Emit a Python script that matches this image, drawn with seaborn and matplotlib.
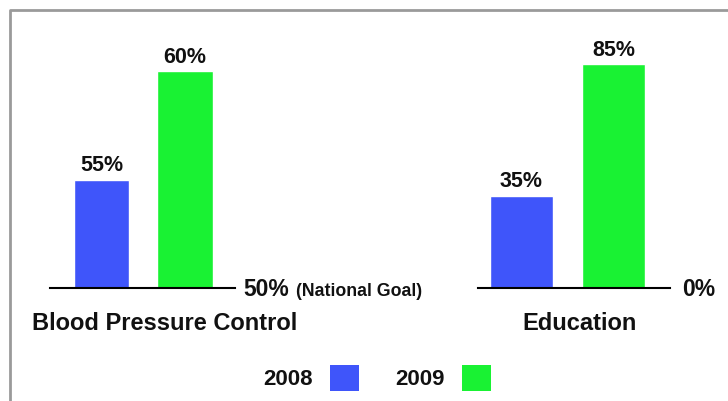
import matplotlib
matplotlib.use("Agg")
import matplotlib.pyplot as plt
import seaborn as sns
import pandas as pd
from matplotlib.lines import Line2D
from matplotlib.patches import Patch

sns.set_theme(style="white")
plt.rcParams['font.family'] = ['Liberation Sans', 'DejaVu Sans']

years = ["2008", "2009"]
bp_values = [55, 60]
edu_values = [35, 85]
bp_baseline = 50
edu_baseline = 0
categories = ["Blood Pressure Control", "Education"]
colors = ["#3f55fa", "#19f233"]
TXT = "#111111"

W, H = 728, 401
fig = plt.figure(figsize=(W / 100, H / 100), dpi=100)

def px_axes(x0, x1, ytop, ybot):
    return fig.add_axes([x0 / W, 1 - ybot / H, (x1 - x0) / W, (ybot - ytop) / H])

def panel(ax, values, base, scale_px, x_left, x_right, width):
    df = pd.DataFrame({"year": years, "value": values})
    sns.barplot(data=df, x="year", y="value", hue="year", palette=colors,
                width=width, legend=False, ax=ax, saturation=1)
    ax.set_ylim(base, base + 278 / scale_px)
    ax.set_xlim(x_left, x_right)
    for c in ax.containers:
        ax.bar_label(c, labels=[f"{int(b.get_height())}%" for b in c],
                     padding=2.5, fontsize=15.5, fontweight="bold", color=TXT)
    ax.set_xlabel("")
    ax.set_ylabel("")
    ax.set_xticks([])
    ax.set_yticks([])
    for s in ["top", "left", "right"]:
        ax.spines[s].set_visible(False)
    ax.spines["bottom"].set_color("black")
    ax.spines["bottom"].set_linewidth(1.5)
    ax.patch.set_alpha(0)

ax1 = px_axes(50, 235, 10, 288)
panel(ax1, bp_values, bp_baseline, 21.7, -0.617, 1.599, 0.66)

ax2 = px_axes(478, 670, 10, 288)
panel(ax2, edu_values, edu_baseline, 2.635, -0.473, 1.614, 0.685)

# baseline labels
fig.text(243 / W, 1 - 290 / H, f"{bp_baseline}%", fontsize=16.5, fontweight="bold",
         va="center", ha="left", color=TXT)
fig.text(296 / W, 1 - 291 / H, "(National Goal)", fontsize=12.8, fontweight="bold",
         va="center", ha="left", color=TXT)
fig.text(682 / W, 1 - 290 / H, f"{edu_baseline}%", fontsize=16.5, fontweight="bold",
         va="center", ha="left", color=TXT)

# category labels
fig.text(165 / W, 1 - 323 / H, categories[0], fontsize=17, fontweight="bold",
         va="center", ha="center", color=TXT)
fig.text(580 / W, 1 - 323 / H, categories[1], fontsize=17, fontweight="bold",
         va="center", ha="center", color=TXT)

# legend
handles = [Patch(facecolor=c, edgecolor="none", label=y) for c, y in zip(colors, years)]
fig.legend(handles=handles, loc="center", bbox_to_anchor=(377 / W, 1 - 378 / H),
           ncol=2, markerfirst=False, frameon=False,
           prop={"size": 16, "weight": "bold"}, handlelength=1.3, handleheight=1.45,
           columnspacing=1.6, handletextpad=0.8)
for t in fig.legends[0].get_texts():
    t.set_color(TXT)

# outer frame
fig.add_artist(Line2D([10 / W, 10 / W, 1.0], [0.0, 1 - 10 / H, 1 - 10 / H],
                      transform=fig.transFigure, color="#9a9a9a", lw=2))

fig.savefig("out.png", dpi=100)
